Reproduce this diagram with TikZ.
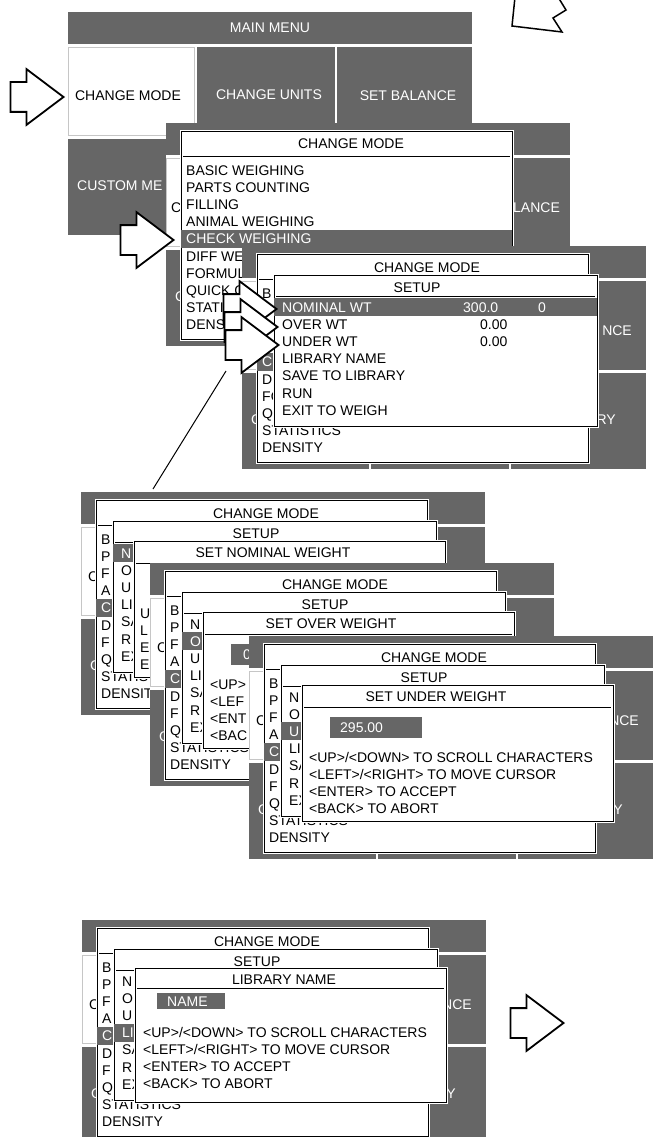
\documentclass[tikz,border=0pt]{standalone}
\usepackage{fontspec}
\setmainfont{Liberation Sans}
\usetikzlibrary{shapes.arrows}

\definecolor{panelgray}{RGB}{102,102,102}

\tikzstyle{scrfont} = [font=\fontsize{14pt}{17.2pt}\selectfont, inner sep=0pt]
\tikzstyle{scrtext} = [scrfont, text height=10pt, text depth=0pt]
\tikzstyle{celltext} = [scrtext, text=white]
\tikzstyle{listtext} = [scrfont, align=left, anchor=base west]
\tikzstyle{dialog} = [rectangle, draw=black, fill=white, line width=0.8pt, 
anchor=north west, inner sep=0pt, preaction={draw=white, line width=3pt}]
\tikzstyle{titleline} = [draw, line width=0.8pt]
\tikzstyle{bigarrow} = [single arrow, draw, fill=white, line width=1.8pt, 
minimum height=53pt, inner xsep=0pt, inner ysep=14pt, 
single arrow head extend=13pt, single arrow tip angle=74, anchor=tip]
\tikzstyle{pointer} = [draw, line width=1pt]

% grey menu screen behind the dialogs
\newcommand{\menupanel}{%
	\fill[panelgray] (0,0) rectangle (404,223);
	\fill[white] (0,32) rectangle (404,35);
	\fill[white] (0,124) rectangle (404,127);
	\fill[white] (127,35) rectangle (129,223);
	\fill[white] (267,35) rectangle (269,223);
	\filldraw[fill=white, draw=gray!45] (0.5,35.5) rectangle (126.5,123.5);
}
% change mode list (10 rows, placed by the last baseline)
\newcommand{\modedialog}[2]{%
	\node[dialog, minimum width=331pt, minimum height=208pt] (#1) at (15,8) {};
	\fill[panelgray] (15.4,106.8) rectangle (345.6,124.8);
	\node[scrtext] (#1title) at (185,21) {CHANGE MODE};
	\draw[titleline] (17,33) -- (344,33);
	\node[listtext] (#1list) at (20,206.8) {#2};
}
% setup list (7 rows), #2 = selected row
\newcommand{\setupdialog}[3]{%
	\node[dialog, minimum width=323pt, minimum height=151pt] (#1) at (32,29) {};
	\fill[panelgray] (32.4,{52+17.2*(#2-1)}) rectangle (354.6,{70+17.2*(#2-1)});
	\node[scrtext] (#1title) at (175,41) {SETUP};
	\draw[titleline] (34,50) -- (353,50);
	\node[listtext] (#1list) at (40,169.2) {#3};
}
% entry dialog
\newcommand{\valuedialog}[3]{%
	\node[dialog, minimum width=311pt, minimum height=136pt] (#1) at (53,49) {};
	\node[scrtext] (#1title) at (#3,60) {#2};
	\draw[titleline] (55,71) -- (362,71);
	\fill[panelgray] (81,81) rectangle (173,102);
}

\begin{document}
\begin{tikzpicture}[x=1pt, y=-1pt]
	\useasboundingbox (0,0) rectangle (653,1137);
	\clip (0,0) rectangle (653,1137);

	%arrow cut off at the top
	\draw[line width=1.5pt] (515,-3) -- (512,26) -- (562,32) -- (553,18) -- (566,10) -- (558,-3);

	%main menu
	\begin{scope}[shift={(68,12)}]
	\menupanel
	\node[celltext] (mainhead) at (202,16) {MAIN MENU};
	\node[scrtext] (mainmode) at (60,84) {CHANGE MODE};
	\node[celltext] (mainunits) at (201,83) {CHANGE UNITS};
	\node[celltext] (mainbal) at (340,84) {SET BALANCE};
	\node[celltext, anchor=west] (maincust) at (9,173) {CUSTOM ME};
	\end{scope}
	\node[bigarrow] (modearrow) at (65,97) {};

	%change mode
	\begin{scope}[shift={(166,123)}]
	\menupanel
	\node[scrtext, anchor=west] (cmmode) at (5,84) {C};
	\node[celltext, anchor=west] (cmbal) at (347,84) {LANCE};
	\node[celltext, anchor=west] (cmcust) at (9,173) {C};
	\modedialog{cmd}{BASIC WEIGHING\\PARTS COUNTING\\FILLING\\ANIMAL WEIGHING\\
		\textcolor{white}{CHECK WEIGHING}\\DIFF WE\\FORMUL\\QUICK C\\STATI\\DENSI}
	\end{scope}
	\node[bigarrow] (checkarrow) at (175,240) {};

	%setup
	\begin{scope}[shift={(242,246)}]
	\menupanel
	\node[celltext, anchor=west] (setcust) at (9,173) {C};
	\node[celltext, anchor=east] (setbal) at (390,84) {NCE};
	\node[celltext, anchor=east] (setlib) at (374,173) {RY};
	\modedialog{setd}{B\\{}\\{}\\{}\\\textcolor{white}{C}\\D\\FO\\Q\\STATISTICS\\DENSITY}
	\setupdialog{sets}{1}{\textcolor{white}{NOMINAL WT}\\OVER WT\\UNDER WT\\
		LIBRARY NAME\\SAVE TO LIBRARY\\RUN\\EXIT TO WEIGH}
	\node[celltext, anchor=west] (nomval) at (221,61) {300.0};
	\node[celltext, anchor=west] (nomtol) at (296,61) {0};
	\node[scrtext, anchor=west] (overval) at (238,78.2) {0.00};
	\node[scrtext, anchor=west] (underval) at (238,95.4) {0.00};
	\end{scope}
	\node[bigarrow] (nomarrow) at (278,309) {};
	\node[bigarrow] (overarrow) at (279,327) {};
	\node[bigarrow] (underarrow) at (280,345) {};

	%edges
	\coordinate (ptrstart) at (226,371);
	\coordinate (ptrend) at (153,489);
	\path[pointer] (ptrstart) -- (ptrend);

	%set nominal weight
	\begin{scope}[shift={(81,492)}]
	\menupanel
	\node[scrtext, anchor=west] (nommode) at (7,84) {C};
	\node[celltext, anchor=west] (nomcust) at (9,173) {C};
	\modedialog{nomd}{B\\P\\F\\A\\\textcolor{white}{C}\\D\\F\\Q\\STATIS\\DENSIT}
	\setupdialog{noms}{1}{\textcolor{white}{N}\\O\\U\\LI\\SA\\R\\EX}
	\valuedialog{nomv}{SET NOMINAL WEIGHT}{192}
	\node[listtext] (nomhelp) at (59,177.6) {U\\L\\E\\E};
	\end{scope}

	%set over weight
	\begin{scope}[shift={(150,563)}]
	\menupanel
	\node[scrtext, anchor=west] (overmode) at (7,84) {C};
	\node[celltext, anchor=west] (overcust) at (9,173) {C};
	\modedialog{overd}{B\\P\\F\\A\\\textcolor{white}{C}\\D\\F\\Q\\STATISTICS\\DENSITY}
	\setupdialog{overs}{2}{N\\\textcolor{white}{O}\\U\\LI\\SA\\R\\EX}
	\valuedialog{overv}{SET OVER WEIGHT}{181}
	\node[celltext, anchor=west] (overfield) at (93,91.5) {0};
	\node[listtext] (overhelp) at (60,177.6) {<UP>\\<LEF\\<ENT\\<BAC};
	\end{scope}

	%set under weight
	\begin{scope}[shift={(249,636)}]
	\menupanel
	\node[scrtext, anchor=west] (undermode) at (7,84) {C};
	\node[celltext, anchor=west] (undercust) at (9,173) {C};
	\node[celltext, anchor=east] (underbal) at (390,84) {NCE};
	\node[celltext, anchor=east] (underlib) at (374,173) {RY};
	\modedialog{underd}{B\\P\\F\\A\\\textcolor{white}{C}\\D\\F\\Q\\STATISTICS\\DENSITY}
	\setupdialog{unders}{3}{N\\O\\\textcolor{white}{U}\\LI\\SA\\R\\EX}
	\valuedialog{underv}{SET UNDER WEIGHT}{187}
	\node[celltext, anchor=west] (underfield) at (91,91.5) {295.00};
	\node[listtext] (underhelp) at (60,177.6) {<UP>/<DOWN> TO SCROLL CHARACTERS\\
		<LEFT>/<RIGHT> TO MOVE CURSOR\\<ENTER> TO ACCEPT\\<BACK> TO ABORT};
	\end{scope}

	%library name
	\begin{scope}[shift={(82,920)}]
	\menupanel
	\node[scrtext, anchor=west] (namemode) at (7,84) {C};
	\node[celltext, anchor=west] (namecust) at (9,173) {C};
	\node[celltext, anchor=east] (namebal) at (390,84) {NCE};
	\node[celltext, anchor=east] (namelib) at (374,173) {RY};
	\modedialog{named}{B\\P\\F\\A\\\textcolor{white}{C}\\D\\F\\Q\\STATISTICS\\DENSITY}
	\setupdialog{names}{4}{N\\O\\U\\\textcolor{white}{LI}\\SA\\R\\EX}
	\node[dialog, minimum width=311pt, minimum height=134pt] (namev) at (53,48) {};
	\node[scrtext] (namevtitle) at (202,59) {LIBRARY NAME};
	\draw[titleline] (55,68) -- (362,68);
	\fill[panelgray] (75,73) rectangle (143,89);
	\node[celltext, anchor=west] (namefield) at (85,81) {NAME};
	\node[listtext] (namehelp) at (61,168.6) {<UP>/<DOWN> TO SCROLL CHARACTERS\\
		<LEFT>/<RIGHT> TO MOVE CURSOR\\<ENTER> TO ACCEPT\\<BACK> TO ABORT};
	\end{scope}
	\node[bigarrow] (namearrow) at (565,1023) {};
\end{tikzpicture}
\end{document}
